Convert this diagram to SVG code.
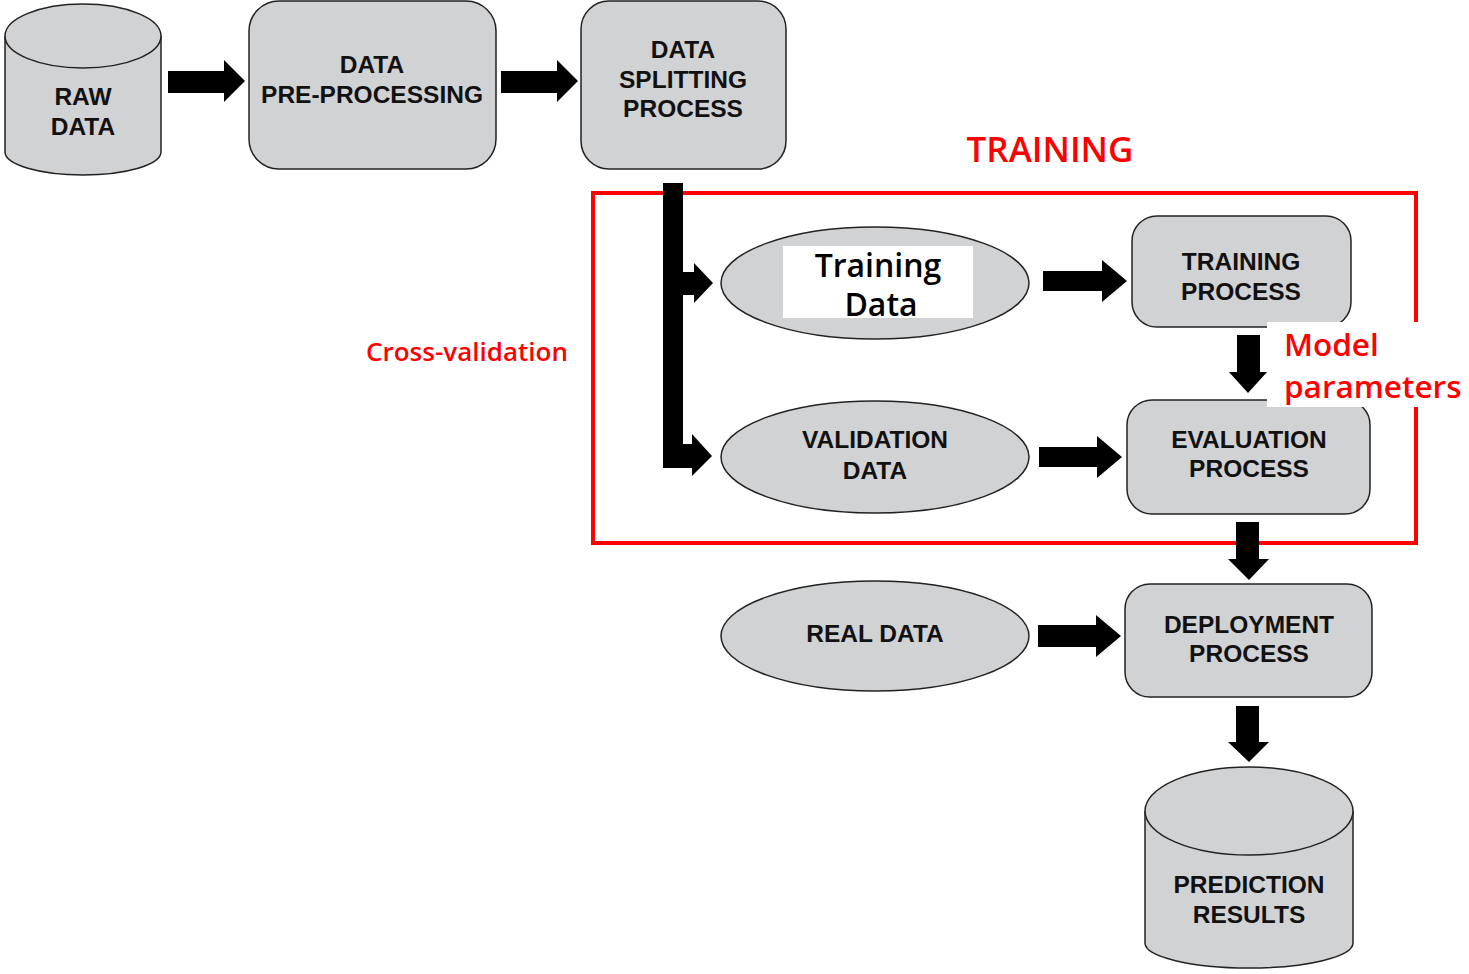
<svg xmlns="http://www.w3.org/2000/svg" width="1469" height="974" viewBox="0 0 1469 974">
<style>
.shape{fill:#d1d2d4;stroke:#222;stroke-width:1.5}
.lbl{font-family:"Liberation Sans",Arial,sans-serif;font-weight:bold;font-size:24.5px;fill:#111;text-anchor:middle}
.red{font-family:"Open Sans","Noto Sans",sans-serif;font-weight:600;fill:#ff0000}
.td{font-family:"Open Sans","Noto Sans",sans-serif;font-weight:600;font-size:32px;fill:#000;text-anchor:middle}
.arr{fill:#000}
</style>
<rect width="1469" height="974" fill="#fff"/>
<g id="raw-data">
<path class="shape" d="M5,36 V152 A78,23 0 0 0 161,152 V36"/>
<ellipse class="shape" cx="83" cy="36" rx="78" ry="32"/>
<text class="lbl" x="83" y="105">RAW</text>
<text class="lbl" x="83" y="135">DATA</text>
</g>
<g id="pre-processing">
<rect class="shape" x="249" y="1" width="247" height="168" rx="30"/>
<text class="lbl" x="372" y="73">DATA</text>
<text class="lbl" x="372" y="103">PRE-PROCESSING</text>
</g>
<g id="splitting">
<rect class="shape" x="581" y="1" width="205" height="168" rx="28"/>
<text class="lbl" x="683" y="58">DATA</text>
<text class="lbl" x="683" y="88">SPLITTING</text>
<text class="lbl" x="683" y="117">PROCESS</text>
</g>
<g id="training-data">
<ellipse class="shape" cx="875" cy="283" rx="154" ry="56"/>
<rect x="783" y="246" width="190" height="72" fill="#fff"/>
<text class="td" x="878" y="277">Training</text>
<text class="td" x="881" y="316">Data</text>
</g>
<g id="validation-data">
<ellipse class="shape" cx="875" cy="457" rx="154" ry="56"/>
<text class="lbl" x="875" y="448">VALIDATION</text>
<text class="lbl" x="875" y="479">DATA</text>
</g>
<g id="real-data">
<ellipse class="shape" cx="875" cy="636" rx="154" ry="55"/>
<text class="lbl" x="875" y="642">REAL DATA</text>
</g>
<g id="training-process">
<rect class="shape" x="1132" y="216" width="219" height="111" rx="25"/>
<text class="lbl" x="1241" y="270">TRAINING</text>
<text class="lbl" x="1241" y="300">PROCESS</text>
</g>
<g id="evaluation-process">
<rect class="shape" x="1127" y="400" width="243" height="114" rx="25"/>
<text class="lbl" x="1249" y="448">EVALUATION</text>
<text class="lbl" x="1249" y="477">PROCESS</text>
</g>
<g id="deployment-process">
<rect class="shape" x="1125" y="584" width="247" height="113" rx="25"/>
<text class="lbl" x="1249" y="633">DEPLOYMENT</text>
<text class="lbl" x="1249" y="662">PROCESS</text>
</g>
<g id="prediction-results">
<path class="shape" d="M1145,811 V943 A104,25 0 0 0 1353,943 V811"/>
<ellipse class="shape" cx="1249" cy="811" rx="104" ry="44"/>
<text class="lbl" x="1249" y="893">PREDICTION</text>
<text class="lbl" x="1249" y="923">RESULTS</text>
</g>
<g id="training-frame">
<rect x="593" y="193" width="823" height="350" fill="none" stroke="#ff0000" stroke-width="4"/>
<text class="red" x="1050" y="162" font-size="35" text-anchor="middle">TRAINING</text>
<text class="red" x="467" y="361" font-size="26" text-anchor="middle">Cross-validation</text>
</g>
<g id="connectors">
<polygon class="arr" points="168,71 224,71 224,60 245,81 224,102 224,93 168,93"/>
<polygon class="arr" points="501,71 557,71 557,60 578,81 557,102 557,93 501,93"/>
<polygon class="arr" points="663,183 683,183 683,272 694,272 694,263 713,283 694,303 694,295 683,295 683,444 692,444 692,434 712,456 692,476 692,468 663,468"/>
<polygon class="arr" points="1043,271 1102,271 1102,260 1127,281 1102,302 1102,291 1043,291"/>
<polygon class="arr" points="1039,447 1097,447 1097,436 1122,457 1097,478 1097,467 1039,467"/>
<polygon class="arr" points="1038,625 1096,625 1096,615 1121,636 1096,657 1096,647 1038,647"/>
<polygon class="arr" points="1237,335 1260,335 1260,372 1267,372 1248,393 1229,372 1237,372"/>
<polygon class="arr" points="1236,522 1259,522 1259,559 1269,559 1249,580 1228,559 1236,559"/>
<polygon class="arr" points="1236,706 1259,706 1259,742 1269,742 1249,762 1228,742 1236,742"/>
</g>
<g id="model-parameters">
<rect x="1267" y="322" width="202" height="85" fill="#fff"/>
<text class="red" x="1284" y="356" font-size="31.5">Model</text>
<text class="red" x="1284" y="398" font-size="31.5">parameters</text>
</g>
</svg>
